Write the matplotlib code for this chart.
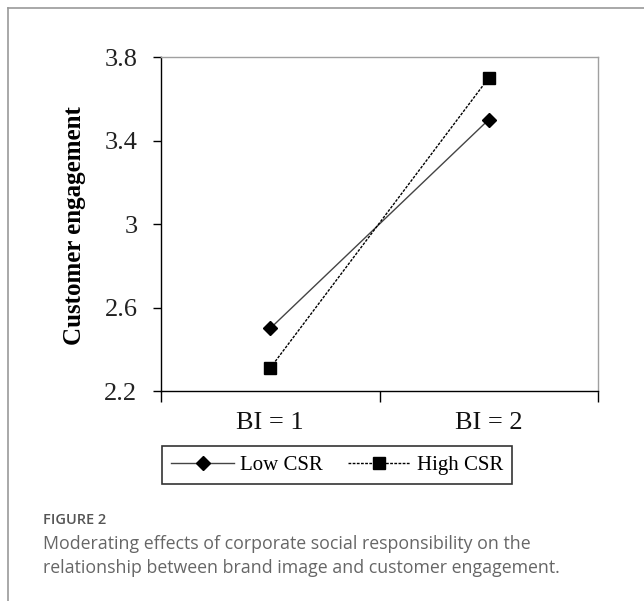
import numpy as np
import matplotlib
matplotlib.use("Agg")
import matplotlib.pyplot as plt
from matplotlib.lines import Line2D

# Veriler
kategoriler = ["BI = 1", "BI = 2"]
dusuk_csr = [2.50, 3.50]
yuksek_csr = [2.31, 3.70]
y_tikler = [2.2, 2.6, 3.0, 3.4, 3.8]

serif = ["Liberation Serif", "DejaVu Serif"]

fig = plt.figure(figsize=(6.44, 6.01), dpi=100)
ax = fig.add_axes([161 / 644, 1 - 391 / 601, (598 - 161) / 644, (391 - 57) / 601])

x = np.arange(len(kategoriler)) + 0.5
ax.plot(x, dusuk_csr, color="#444444", linewidth=1.0, marker="D", markersize=7,
        markerfacecolor="black", markeredgecolor="black", label="Low CSR")
ax.plot(x, yuksek_csr, color="black", linewidth=1.0, linestyle=(0, (2, 1)), marker="s",
        markersize=8, markerfacecolor="black", markeredgecolor="black", label="High CSR")

ax.set_xlim(0, len(kategoriler))
ax.set_ylim(y_tikler[0], y_tikler[-1])

# Eksen çizgileri
ax.spines["left"].set_color("black")
ax.spines["bottom"].set_color("black")
ax.spines["top"].set_color("#a0a0a0")
ax.spines["right"].set_color("#a0a0a0")
for s in ax.spines.values():
    s.set_linewidth(1.0)

ax.set_yticks(y_tikler)
ax.set_yticklabels([f"{v:g}" for v in y_tikler], fontfamily=serif, fontsize=19, color="#222222")
ax.tick_params(axis="y", direction="out", length=6, width=1, pad=11)

ax.set_xticks(x)
ax.set_xticklabels(kategoriler, fontfamily=serif, fontsize=19, color="#111111")
ax.tick_params(axis="x", which="major", length=0, pad=15)
ax.set_xticks(np.arange(len(kategoriler) + 1), minor=True)
ax.tick_params(axis="x", which="minor", direction="out", length=8, width=1)
ax.tick_params(axis="y", which="minor", length=0)

ax.set_ylabel("Customer engagement", fontfamily=serif, fontsize=18, fontweight="bold")
ax.yaxis.set_label_coords(-0.172, 0.495)

leg = fig.legend(loc="upper left", bbox_to_anchor=(162 / 644, 1 - 446 / 601), ncol=2,
                 prop={"family": serif, "size": 15}, frameon=True, fancybox=False,
                 edgecolor="black", handlelength=3.0, columnspacing=1.2, borderpad=0.45,
                 handletextpad=0.3, borderaxespad=0)
leg.get_frame().set_linewidth(1.2)

# Dış çerçeve
fig.add_artist(Line2D([8 / 644, 1], [1 - 8 / 601, 1 - 8 / 601], color="#999999", linewidth=1.2))
fig.add_artist(Line2D([8 / 644, 8 / 644], [0, 1 - 8 / 601], color="#999999", linewidth=1.2))

# Başlık
fig.text(43 / 644, 1 - 520 / 601, "FIGURE 2", fontfamily="Open Sans", fontsize=10.5,
         fontweight="semibold", color="#555555", va="center", ha="left")
fig.text(43 / 644, 1 - 556 / 601,
         "Moderating effects of corporate social responsibility on the\n"
         "relationship between brand image and customer engagement.",
         fontfamily="Open Sans", fontsize=12.8, color="#666666", va="center", ha="left",
         linespacing=1.4)

fig.savefig("out.png", dpi=100)
